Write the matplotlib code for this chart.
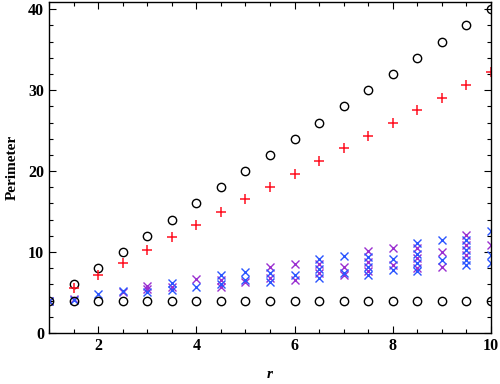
import numpy as np
import matplotlib.pyplot as plt
from matplotlib.ticker import MultipleLocator

plt.rcParams['font.family'] = ['Liberation Serif', 'DejaVu Serif']

r = np.arange(1, 10.01, 0.5)

# circles
circ_low = [4] * len(r)
circ_up_r = r[1:]
circ_up = [6, 8, 10, 12, 14, 16, 18, 20, 22, 24, 26, 28, 30, 32, 34, 36, 38, 40]

# pluses
plus_r = r[1:]
plus_v = [5.5, 7.1, 8.6, 10.2, 11.8, 13.3, 14.9, 16.5, 18.0, 19.6, 21.2,
          22.8, 24.3, 25.9, 27.5, 29.0, 30.6, 32.2]

# crosses, blue
xb_r = [1, 1.5, 2, 2.5, 3, 3.5, 3.5, 4, 4.5, 4.5, 5, 5, 5.5, 5.5, 6,
        6.5, 6.5, 6.5, 7, 7, 7.5, 7.5, 7.5, 8, 8, 8.5, 8.5, 8.5, 8.5,
        9, 9, 9.5, 9.5, 9.5, 9.5, 10, 10, 10]
xb_v = [4, 4.1, 4.8, 5.2, 5.1, 6.2, 5.3, 5.7, 7.1, 6.0, 7.5, 6.5, 7.4, 6.3, 7.2,
        9.1, 7.9, 6.8, 9.5, 7.4, 9.4, 8.2, 7.2, 9.1, 7.8, 11.1, 9.8, 8.6, 7.6,
        11.5, 9.0, 11.5, 10.2, 9.0, 8.4, 12.6, 9.6, 8.6]

# crosses, purple
xp_r = [1, 1.5, 2.5, 3, 3, 3.5, 4, 4.5, 4.5, 5, 5.5, 5.5, 6, 6,
        6.5, 6.5, 7, 7, 7.5, 7.5, 7.5, 8, 8, 8.5, 8.5, 8.5,
        9, 9, 9.5, 9.5, 9.5, 10]
xp_v = [4, 4.2, 5.0, 5.8, 5.4, 5.7, 6.7, 6.5, 5.7, 6.3, 8.1, 6.75, 8.5, 6.5,
        8.5, 7.4, 8.2, 7.1, 10.1, 8.8, 7.6, 10.5, 8.4, 10.5, 9.2, 8.0,
        10.0, 8.2, 12.1, 10.9, 9.6, 10.9]

fig = plt.figure(figsize=(5, 3.84), dpi=100)
ax = fig.add_axes([0.098, 0.133, 0.884, 0.862])

ax.plot(xp_r, xp_v, 'x', color='#9a2fd0', ms=5.5, mew=1.0, ls='none')
ax.plot(xb_r, xb_v, 'x', color='#2a55ff', ms=5.5, mew=1.0, ls='none')
ax.plot(r, circ_low, 'o', mfc='none', mec='black', ms=6, mew=1.0, ls='none')
ax.plot(circ_up_r, circ_up, 'o', mfc='none', mec='black', ms=6, mew=1.0, ls='none')
ax.plot(plus_r, plus_v, '+', color='#ff1020', ms=7.5, mew=1.1, ls='none')

ax.set_xlim(1, 10)
ax.set_ylim(0, 40.9)
ax.xaxis.set_major_locator(MultipleLocator(2))
ax.xaxis.set_minor_locator(MultipleLocator(0.5))
ax.yaxis.set_major_locator(MultipleLocator(10))
ax.yaxis.set_minor_locator(MultipleLocator(2))
ax.tick_params(which='both', direction='in', top=True, right=True,
               labelsize=11.5, width=0.8)
ax.tick_params(which='major', length=5)
ax.tick_params(which='minor', length=3)
for lab in ax.get_xticklabels() + ax.get_yticklabels():
    lab.set_fontweight('bold')
for s in ax.spines.values():
    s.set_linewidth(1.0)

ax.set_xlabel('r', fontsize=11, fontweight='bold', style='italic', labelpad=10)
ax.set_ylabel('Perimeter', fontsize=11, fontweight='bold', labelpad=7)

fig.savefig('out.png', dpi=100)
